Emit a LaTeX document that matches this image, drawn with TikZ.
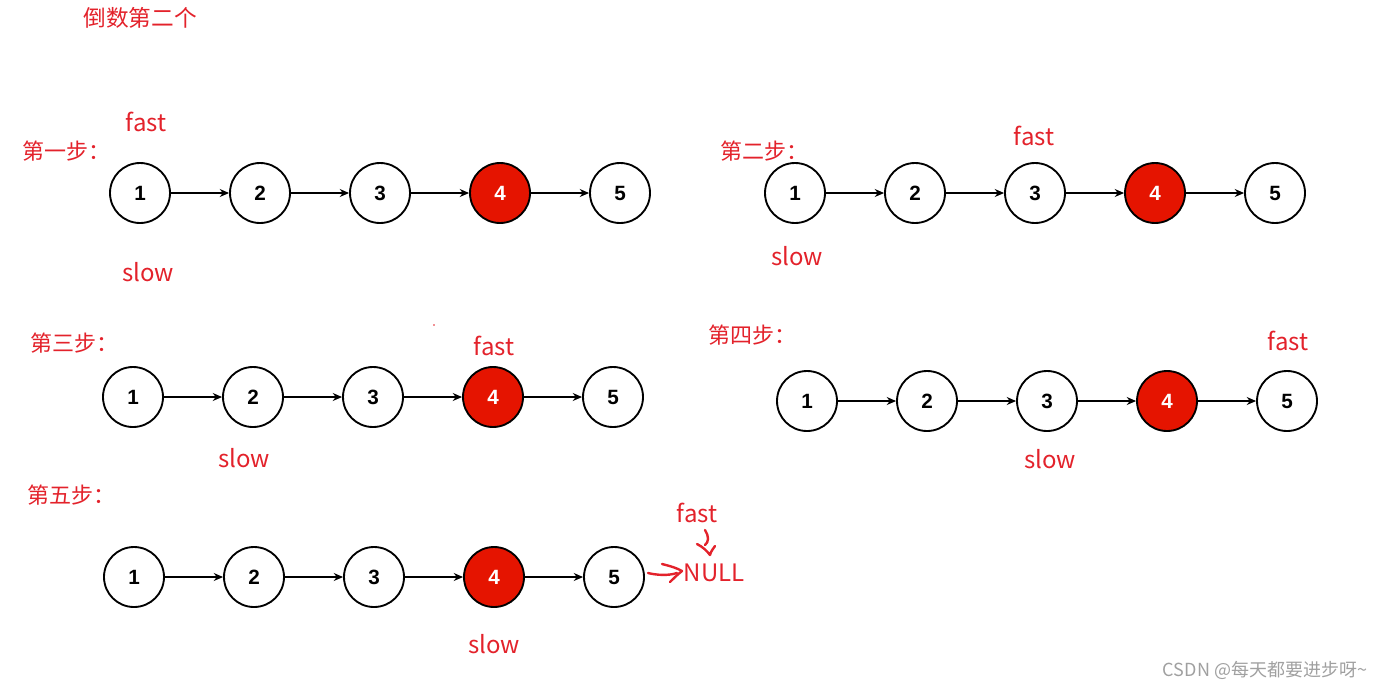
\documentclass[tikz,border=0pt]{standalone}
\usepackage{fontspec}
\setmainfont{Liberation Sans}
\newfontfamily\cjkf{Noto Sans CJK SC}
\usetikzlibrary{arrows.meta}
\definecolor{lblred}{HTML}{E3222B}
\definecolor{nodered}{HTML}{E51400}
\definecolor{wm}{HTML}{A0A0A0}
\tikzset{
  lnode/.style={circle,draw=black,line width=1.4pt,minimum size=45pt,inner sep=0pt,fill=white,font=\bfseries\fontsize{15.5}{15.5}\selectfont},
  rnode/.style={lnode,fill=nodered,text=white},
  link/.style={-{Stealth[length=7pt,width=6pt]},line width=0.9pt},
  lbl/.style={text=lblred,font=\cjkf\fontsize{18}{18}\selectfont,inner sep=0pt},
  steplbl/.style={text=lblred,font=\cjkf\fontsize{16.5}{16.5}\selectfont,inner sep=0pt},
  hand/.style={draw=lblred,line width=1.8pt,line cap=round,line join=round}
}
\begin{document}
\begin{tikzpicture}[x=0.75pt,y=-0.75pt]
\useasboundingbox (0,0) rectangle (1391,690);
% rows of nodes
\foreach \r/\x/\y in {a/140/193, b/795/193, c/133/397, d/807/401, e/134/577}{
  \foreach \i in {1,2,3,5}{
    \node[lnode] (\r\i) at ({\x+120*(\i-1)},\y) {\i};
  }
  \node[rnode] (\r4) at ({\x+360},\y) {4};
  \draw[link] (\r1) -- (\r2);
  \draw[link] (\r2) -- (\r3);
  \draw[link] (\r3) -- (\r4);
  \draw[link] (\r4) -- (\r5);
}
% title
\node[lbl,font=\cjkf\fontsize{17}{17}\selectfont] (title) at (140,18) {倒数第二个};
% step 1
\node[steplbl] (s1) at (66,151) {第一步：};
\node[lbl] (f1) at (146,122) {fast};
\node[lbl] (w1) at (148,272) {slow};
% step 2
\node[steplbl] (s2) at (764,151) {第二步：};
\node[lbl] (f2) at (1034,136) {fast};
\node[lbl] (w2) at (797,256) {slow};
% step 3
\node[steplbl] (s3) at (74,343) {第三步：};
\node[lbl] (f3) at (494,346) {fast};
\node[lbl] (w3) at (244,458) {slow};
\fill[lblred] (434,325) circle (0.9);
% step 4
\node[steplbl] (s4) at (752,335) {第四步：};
\node[lbl] (f4) at (1288,341) {fast};
\node[lbl] (w4) at (1050,459) {slow};
% step 5
\node[steplbl] (s5) at (71,495) {第五步：};
\node[lbl] (f5) at (697,513) {fast};
\node[lbl] (null) at (714,573) {NULL};
\node[lbl] (w5) at (494,644) {slow};
% hand-drawn arrows
\coordinate (h1) at (648,573);
\coordinate (h2) at (682,571);
\draw[hand] (h1) .. controls (656,575) and (668,576) .. (677,573);
\draw[hand] (662,564) .. controls (670,566) and (677,568) .. (h2) .. controls (677,575) and (673,579) .. (670,582);
\coordinate (v1) at (705,530);
\coordinate (v2) at (710,555);
\draw[hand] (v1) .. controls (709,536) and (709,542) .. (705,545);
\draw[hand] (697,544) .. controls (703,547) and (707,551) .. (v2) .. controls (711,551) and (713,549) .. (715,546);
% watermark
\node[text=wm,font=\cjkf\fontsize{13.5}{13.5}\selectfont,inner sep=0pt] (wmk) at (1265,670) {CSDN @每天都要进步呀\textasciitilde};
\end{tikzpicture}
\end{document}
